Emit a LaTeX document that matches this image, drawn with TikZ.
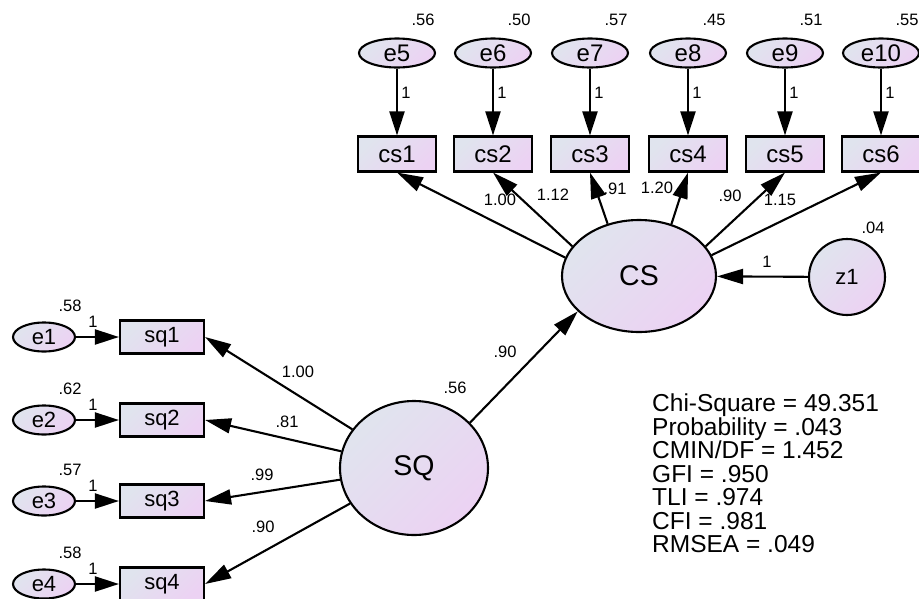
\documentclass[tikz,border=0pt]{standalone}
\usepackage{fontspec}
\setmainfont{Liberation Sans}
\usetikzlibrary{arrows.meta,shapes.geometric}
\definecolor{gA}{RGB}{224,228,238}
\definecolor{gB}{RGB}{236,210,243}
\begin{document}
\begin{tikzpicture}[x=1pt,y=-1pt,
 grad/.style={left color=gA,right color=gB,shading angle=45},
 latv/.style={ellipse,draw,line width=2.1pt,grad,inner sep=0pt,font=\fontsize{28.5}{30}\selectfont},
 errv/.style={ellipse,draw,line width=2.1pt,grad,inner sep=0pt,minimum width=76pt,minimum height=29pt,font=\fontsize{24}{26}\selectfont},
 errs/.style={errv,minimum width=62pt,minimum height=29pt,font=\fontsize{22}{24}\selectfont},
 obsv/.style={rectangle,draw,line width=2.1pt,grad,inner sep=0pt,minimum width=78pt,minimum height=35pt,font=\fontsize{24}{26}\selectfont},
 obss/.style={obsv,minimum width=84pt,minimum height=33pt,font=\fontsize{22}{24}\selectfont},
 num/.style={inner sep=0pt,font=\fontsize{16.5}{18}\selectfont},
 arr/.style={-{Triangle[length=26pt,width=15pt]},line width=2.1pt},
 sarr/.style={-{Triangle[length=24pt,width=15pt]},line width=2.1pt},
 fitt/.style={anchor=base west,inner sep=0pt,font=\fontsize{24.5}{26}\selectfont}]
\useasboundingbox (0,0) rectangle (919,598);

% top error terms and indicators
\node[errv] (e5) at (397,53) {e5};
\node[errv] (e6) at (493,53) {e6};
\node[errv] (e7) at (590,53) {e7};
\node[errv] (e8) at (688,53) {e8};
\node[errv] (e9) at (785,53) {e9};
\node[errv] (e10) at (881,53) {e10};
\node[obsv] (cs1) at (397,154) {cs1};
\node[obsv] (cs2) at (493,154) {cs2};
\node[obsv] (cs3) at (590,154) {cs3};
\node[obsv] (cs4) at (688,154) {cs4};
\node[obsv] (cs5) at (785,154) {cs5};
\node[obsv] (cs6) at (881,154) {cs6};
\node[num] (v5) at (423,20) {.56};
\node[num] (v6) at (519,20) {.50};
\node[num] (v7) at (616,20) {.57};
\node[num] (v8) at (714,20) {.45};
\node[num] (v9) at (811,20) {.51};
\node[num] (v10) at (907,20) {.55};
\foreach \a/\b in {e5/cs1,e6/cs2,e7/cs3,e8/cs4,e9/cs5,e10/cs6}
  \draw[sarr] (\a) -- (\b);
\node[num] (o5) at (406,93) {1};
\node[num] (o6) at (502,93) {1};
\node[num] (o7) at (599,93) {1};
\node[num] (o8) at (697,93) {1};
\node[num] (o9) at (794,93) {1};
\node[num] (o10) at (890,93) {1};

% latent CS and disturbance
\node[latv,minimum width=154pt,minimum height=112pt] (CS) at (639,276) {CS};
\node[latv,circle,minimum size=76pt,font=\fontsize{22}{24}\selectfont] (z1) at (847,277) {z1};
\node[num] (vz) at (873,228) {.04};
\draw[arr] (z1) -- (CS);
\node[num] (oz) at (767,262) {1};

\draw[arr] (CS.166) -- (cs1.south);
\draw[arr] (CS.156) -- (cs2.south);
\draw[arr] (CS.121) -- (cs3.south);
\draw[arr] (CS.58) -- (cs4.south);
\draw[arr] (CS.24) -- (cs5.south);
\draw[arr] (CS.16) -- (cs6.south);
\node[num] (l1) at (500,200) {1.00};
\node[num] (l2) at (553,195) {1.12};
\node[num] (l3) at (615,189) {.91};
\node[num] (l4) at (657,188) {1.20};
\node[num] (l5) at (730,196) {.90};
\node[num] (l6) at (780,200) {1.15};

% latent SQ
\node[latv,minimum width=148pt,minimum height=134pt] (SQ) at (414,468) {SQ};
\node[num] (vsq) at (455,388) {.56};
\draw[arr] (SQ.39) -- (CS.210);
\node[num] (g) at (505,352) {.90};

\node[obss] (sq1) at (162,337) {sq1};
\node[obss] (sq2) at (162,420) {sq2};
\node[obss] (sq3) at (162,501) {sq3};
\node[obss] (sq4) at (162,584) {sq4};
\node[errs] (e1) at (44,337) {e1};
\node[errs] (e2) at (44,420) {e2};
\node[errs] (e3) at (44,501) {e3};
\node[errs] (e4) at (44,584) {e4};
\node[num] (v1) at (70,306) {.58};
\node[num] (v2) at (70,389) {.62};
\node[num] (v3) at (70,470) {.57};
\node[num] (v4) at (70,553) {.58};
\foreach \a/\b in {e1/sq1,e2/sq2,e3/sq3,e4/sq4}
  \draw[sarr] (\a) -- (\b);
\node[num] (o1) at (93,322) {1};
\node[num] (o2) at (93,405) {1};
\node[num] (o3) at (93,486) {1};
\node[num] (o4) at (93,569) {1};
\foreach \b in {sq1,sq2,sq3,sq4}
  \draw[arr] (SQ) -- (\b.east);
\node[num] (k1) at (298,372) {1.00};
\node[num] (k2) at (287,422) {.81};
\node[num] (k3) at (262,475) {.99};
\node[num] (k4) at (263,527) {.90};

% fit statistics
\node[fitt] (f1) at (652,411.7) {Chi-Square = 49.351};
\node[fitt] (f2) at (652,435.2) {Probability = .043};
\node[fitt] (f3) at (652,458.7) {CMIN/DF = 1.452};
\node[fitt] (f4) at (652,482.2) {GFI = .950};
\node[fitt] (f5) at (652,505.7) {TLI = .974};
\node[fitt] (f6) at (652,529.2) {CFI = .981};
\node[fitt] (f7) at (652,552.7) {RMSEA = .049};
\end{tikzpicture}
\end{document}
